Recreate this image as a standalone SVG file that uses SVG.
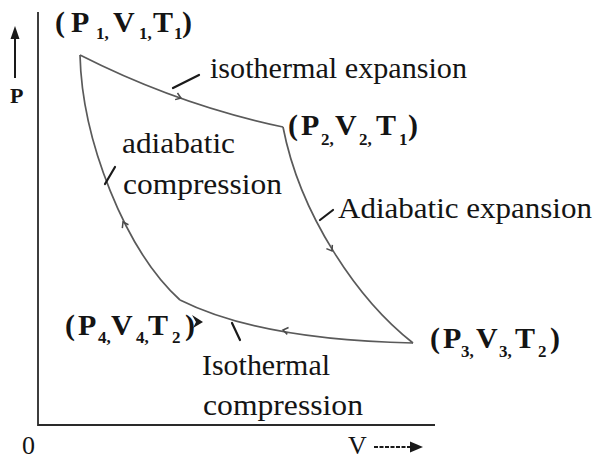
<svg xmlns="http://www.w3.org/2000/svg" width="596" height="461" viewBox="0 0 596 461" font-family="'Liberation Serif', 'DejaVu Serif', serif">
<style>
text{font-family:'Liberation Serif','DejaVu Serif',serif;fill:#141414}
.lbl{font-size:30px}
.st{font-size:30px;font-weight:bold}
.sub{font-size:17px}
.curve{fill:none;stroke:#5a5a5a;stroke-width:1.7}
.axis{fill:none;stroke:#2a2a2a;stroke-width:1.8}
.tick{stroke:#1a1a1a;stroke-width:2.2;stroke-linecap:round}
.ah{fill:none;stroke:#4a4a4a;stroke-width:1.5}
</style>
<defs>
<path id="chev" d="M-5,-3.5 L0,0 L-5,3.5"/>
</defs>
<rect width="596" height="461" fill="#ffffff"/>
<g id="axes">
<path class="axis" d="M38,12 L38,425 L435,425"/>
<line x1="15" y1="36" x2="15" y2="78" stroke="#1a1a1a" stroke-width="2"/>
<path d="M15,26 L19.5,39 L10.5,39 Z" fill="#1a1a1a"/>
<text x="10" y="103" font-family="'Liberation Serif', serif" style="font-size:22px;font-weight:bold">P</text>
<text x="22" y="454" font-family="'Liberation Serif', serif" style="font-size:26px">0</text>
<text x="348" y="454" font-family="'Liberation Serif', serif" style="font-size:26px">V</text>
<line x1="374" y1="447" x2="412" y2="447" stroke="#1a1a1a" stroke-width="2" stroke-dasharray="4 1.5"/>
<path d="M423,447 L410,441.5 L410,452.5 Z" fill="#1a1a1a"/>
</g>
<g id="connectors">
<path id="iso-exp" class="curve" d="M80,55 Q178.5,105 283,127"/>
<path id="adi-exp" class="curve" d="M283,127 C300,215 358,300 413,343"/>
<path id="iso-comp" class="curve" d="M413,343 Q260,340 180,300"/>
<path id="adi-comp" class="curve" d="M180,300 C125,250 82,140 80,55"/>
<use href="#chev" class="ah" transform="translate(181,98) rotate(19.5)"/>
<use href="#chev" class="ah" transform="translate(332,251) rotate(58.4)"/>
<use href="#chev" class="ah" transform="translate(283,330) rotate(190.5)"/>
<use href="#chev" class="ah" transform="translate(123,222) rotate(241.3)"/>
</g>
<g id="node-1" font-family="'Liberation Serif', serif">
<text class="st" y="32"><tspan x="55">(</tspan><tspan x="71">P</tspan><tspan class="sub" x="96" y="39">1,</tspan><tspan x="113" y="32">V</tspan><tspan class="sub" x="139" y="39">1,</tspan><tspan x="153" y="32">T</tspan><tspan class="sub" x="174" y="39">1</tspan><tspan x="182" y="32">)</tspan></text>
</g>
<g id="node-2" font-family="'Liberation Serif', serif">
<text class="st" y="135"><tspan x="288">(</tspan><tspan x="301">P</tspan><tspan class="sub" x="321" y="145">2,</tspan><tspan x="335" y="135">V</tspan><tspan class="sub" x="359" y="145">2,</tspan><tspan x="376" y="135">T</tspan><tspan class="sub" x="399" y="145">1</tspan><tspan x="408" y="135">)</tspan></text>
</g>
<g id="node-3" font-family="'Liberation Serif', serif">
<text class="st" y="348"><tspan x="430">(</tspan><tspan x="443">P</tspan><tspan class="sub" x="461" y="357">3,</tspan><tspan x="476" y="348">V</tspan><tspan class="sub" x="499" y="357">3,</tspan><tspan x="515" y="348">T</tspan><tspan class="sub" x="538" y="357">2</tspan><tspan x="550" y="348">)</tspan></text>
</g>
<g id="node-4" font-family="'Liberation Serif', serif">
<text class="st" y="335"><tspan x="65">(</tspan><tspan x="78">P</tspan><tspan class="sub" x="98" y="343">4,</tspan><tspan x="111" y="335">V</tspan><tspan class="sub" x="136" y="343">4,</tspan><tspan x="148" y="335">T</tspan><tspan class="sub" x="172" y="343">2</tspan><tspan x="185" y="335">)</tspan></text>
<path d="M192,315 L203,322 L193,328 L196,322 Z" fill="#1a1a1a"/>
</g>
<g id="labels" font-family="'Liberation Serif', serif">
<text class="lbl" x="210" y="78" textLength="257" lengthAdjust="spacingAndGlyphs">isothermal expansion</text>
<line class="tick" x1="173" y1="88" x2="199" y2="75"/>
<text class="lbl" x="122" y="153" textLength="113" lengthAdjust="spacingAndGlyphs">adiabatic</text>
<text class="lbl" x="123" y="194" textLength="159" lengthAdjust="spacingAndGlyphs">compression</text>
<line class="tick" x1="105" y1="184" x2="115" y2="167"/>
<text class="lbl" x="338" y="218" textLength="254" lengthAdjust="spacingAndGlyphs">Adiabatic expansion</text>
<line class="tick" x1="320" y1="220" x2="333" y2="210"/>
<text class="lbl" x="202" y="375" textLength="128" lengthAdjust="spacingAndGlyphs">Isothermal</text>
<text class="lbl" x="203" y="415" textLength="160" lengthAdjust="spacingAndGlyphs">compression</text>
<line class="tick" x1="232" y1="323" x2="240" y2="340"/>
</g>
</svg>
